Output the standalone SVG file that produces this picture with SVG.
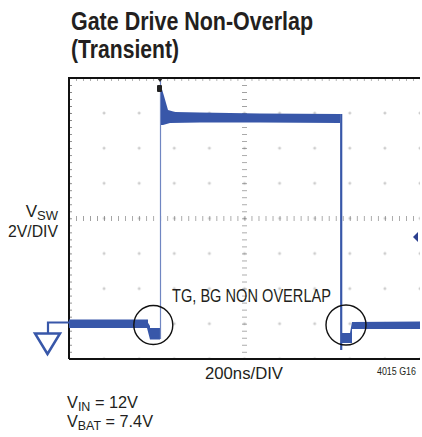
<svg xmlns="http://www.w3.org/2000/svg" width="422" height="437" viewBox="0 0 422 437">
<style>
.t{font-family:"Liberation Sans",Arial,sans-serif;fill:#231f20}
.sig{fill:#3857a9}
.edge{stroke:#3857a9;fill:none}
.circ{fill:none;stroke:#111;stroke-width:1.4}
</style>
<defs>
<pattern id="gridDots" patternUnits="userSpaceOnUse" x="69" y="78" width="35.1" height="35.1">
<path d="M-1.5 0H1.5M0 -1.5V1.5M33.6 0H36.6M35.1 -1.5V1.5M-1.5 35.1H1.5M0 33.6V36.6M33.6 35.1H36.6M35.1 33.6V36.6" stroke="#bdbdbd" stroke-width="1"/>
</pattern>
<pattern id="hTicks" patternUnits="userSpaceOnUse" x="69" y="0" width="7.02" height="437">
<path d="M0 216V221" stroke="#555" stroke-width="1"/>
</pattern>
<pattern id="vTicks" patternUnits="userSpaceOnUse" x="0" y="78" width="422" height="7.02">
<path d="M242 0H247" stroke="#555" stroke-width="1"/>
</pattern>
<pattern id="leftTicks" patternUnits="userSpaceOnUse" x="0" y="78" width="422" height="7.02">
<path d="M69 0H72" stroke="#222" stroke-width="1"/>
</pattern>
<pattern id="topTicks" patternUnits="userSpaceOnUse" x="69" y="0" width="7.02" height="437">
<path d="M0 78V81" stroke="#666" stroke-width="1"/>
</pattern>
</defs>

<g id="title">
<text class="t" x="71" y="30" font-size="25" font-weight="bold" textLength="242" lengthAdjust="spacingAndGlyphs">Gate Drive Non-Overlap</text>
<text class="t" x="71" y="58" font-size="25" font-weight="bold" textLength="108" lengthAdjust="spacingAndGlyphs">(Transient)</text>
</g>

<g id="scope">
<rect x="69" y="78" width="351" height="281" fill="#fff"/>
<rect x="69" y="78" width="351" height="281" fill="url(#gridDots)"/>
<rect x="69" y="78" width="351" height="281" fill="url(#topTicks)"/>
<rect x="69" y="78" width="351" height="281" fill="url(#leftTicks)"/>
<rect x="69" y="212" width="351" height="12" fill="url(#hTicks)"/>
<rect x="240" y="78" width="10" height="281" fill="url(#vTicks)"/>
<path d="M69 359V78H420" fill="none" stroke="#111" stroke-width="2"/>
<path d="M69 359H420" fill="none" stroke="#111" stroke-width="2"/>
</g>

<g id="trace">
<polyline class="edge" points="69,322.5 48,322.5 48,333" stroke-width="2.2"/>
<polygon class="edge" points="35,333.5 60,333.5 47.5,354" stroke-width="2.5"/>
<rect class="sig" x="69" y="319.5" width="79" height="8.5"/>
<polygon class="sig" points="146,319.5 150,326 150,328 160,328 160,339.5 150,339.5 147,328"/>
<line x1="160.5" y1="339" x2="160.5" y2="80" stroke="#7086c2" stroke-width="1.2"/>
<polygon class="sig" points="161,86 164,96 168,110 175,112 200,112.5 260,113.5 340,114 340,123 260,122.5 200,122.5 170,123 163,125 161,125"/>
<line class="edge" x1="341.2" y1="114" x2="341.2" y2="350" stroke-width="2.2"/>
<rect class="sig" x="341" y="333" width="11" height="10"/>
<polygon class="sig" points="350,333 352,322 420,321.5 420,329 352,329 352,336"/>
<rect x="157" y="85" width="5" height="7" rx="1" fill="#222"/>
<polygon points="157,78 163,78 160,82" fill="#222"/>
<polygon points="418,232 418,242 413,237" fill="#2b3f8f"/>
</g>

<g id="annotation">
<circle class="circ" cx="153.3" cy="325" r="19.5"/>
<circle class="circ" cx="346" cy="325" r="20"/>
<text class="t" x="172" y="302" font-size="18" textLength="159" lengthAdjust="spacingAndGlyphs">TG, BG NON OVERLAP</text>
</g>

<g id="labels">
<text class="t" x="58" y="217" font-size="17" text-anchor="end">V<tspan font-size="13" dy="3">SW</tspan></text>
<text class="t" x="8" y="237" font-size="16" textLength="50" lengthAdjust="spacingAndGlyphs">2V/DIV</text>
<text class="t" x="205" y="379" font-size="16.5" textLength="78" lengthAdjust="spacingAndGlyphs">200ns/DIV</text>
<text class="t" x="377" y="375" font-size="10" textLength="39" lengthAdjust="spacingAndGlyphs">4015 G16</text>
<text class="t" x="67" y="407.5" font-size="17" textLength="71" lengthAdjust="spacingAndGlyphs">V<tspan font-size="13" dy="3">IN</tspan><tspan dy="-3"> = 12V</tspan></text>
<text class="t" x="67" y="426.5" font-size="17" textLength="86" lengthAdjust="spacingAndGlyphs">V<tspan font-size="13" dy="3">BAT</tspan><tspan dy="-3"> = 7.4V</tspan></text>
</g>
</svg>
